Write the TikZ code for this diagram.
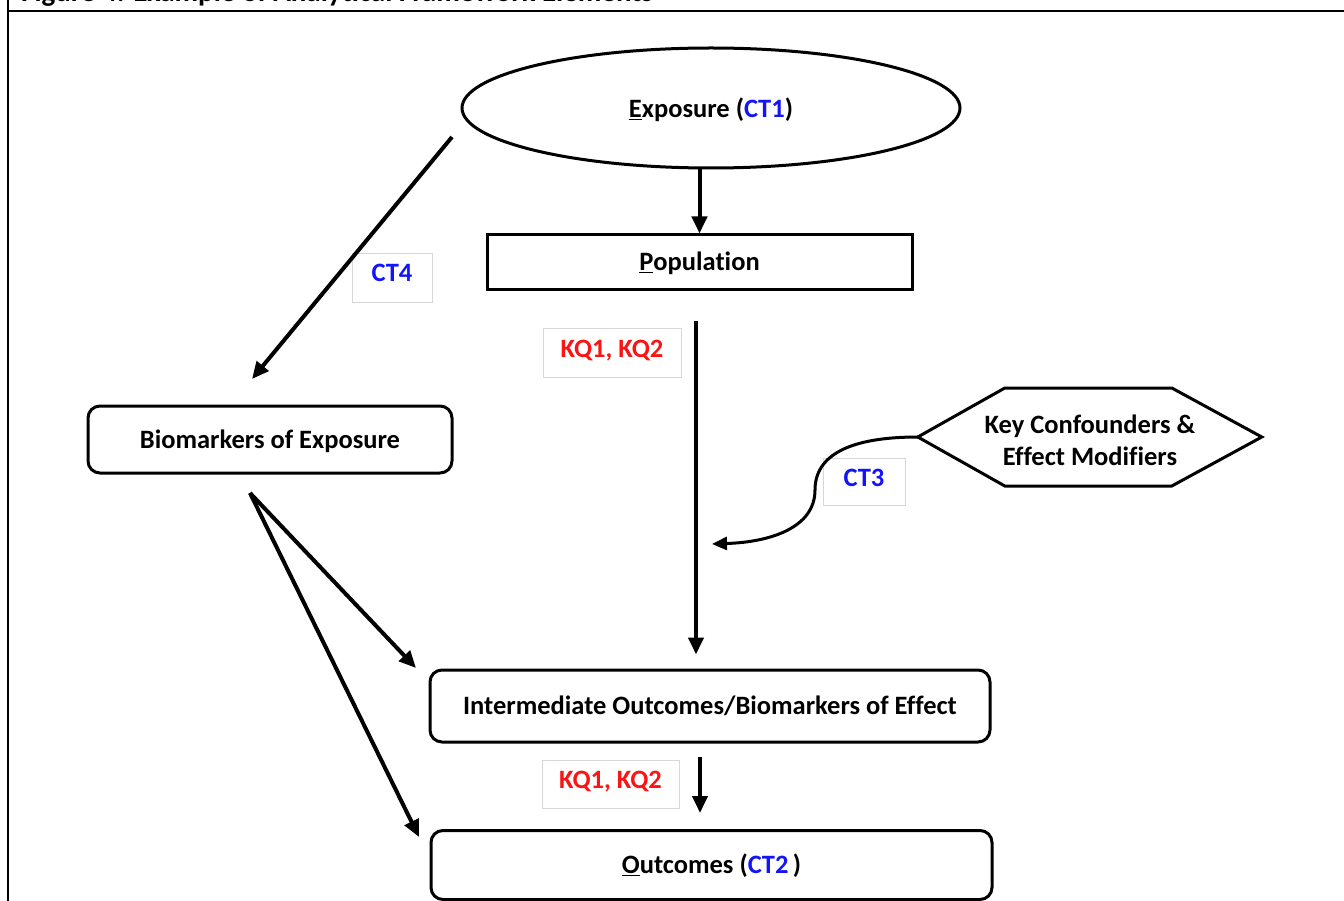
\documentclass[tikz,border=0pt]{standalone}
\usepackage{fontspec}
\setmainfont{Carlito}[Ligatures=NoCommon]
\usetikzlibrary{arrows.meta,calc,shapes.geometric}
\definecolor{ctblue}{RGB}{20,20,250}
\definecolor{kqred}{RGB}{250,20,20}
\definecolor{lblline}{RGB}{215,215,215}
\begin{document}
\begin{tikzpicture}[x=1pt,y=-1pt,
  every node/.style={font=\fontsize{26.5}{32}\selectfont\bfseries, inner sep=0pt},
  shapeline/.style={draw, line width=3pt},
  boxtext/.style={text height=23pt, text depth=6pt},
  roundbox/.style={shapeline, boxtext, rounded corners=12pt},
  lbl/.style={draw=lblline, fill=white, line width=0.9pt, text height=17pt, text depth=8pt},
  arr/.style={line width=4pt, -{Triangle[length=17pt,width=15pt]}},
  curvearr/.style={line width=3pt, -{Triangle[length=15pt,width=13pt]}},
  frameline/.style={line width=2.2pt}]
\useasboundingbox (0,0) rectangle (1344,901);

% frame and title
\draw[frameline] (8,0) -- (8,901);
\draw[frameline] (8,11) -- (1344,11);
\node[anchor=base west, font=\fontsize{29}{34}\selectfont\bfseries] (title) at (21,1.5) {Figure 4. Example of Analytical Framework Elements};

% main nodes
\node[shapeline, ellipse, minimum width=498pt, minimum height=120pt] (expo) at (711,108) {};
\node (expotxt) at (711,110) {\underline{E}xposure (\textcolor{ctblue}{CT1})};
\node[shapeline, boxtext, minimum width=425pt, minimum height=55pt] (pop) at (699.5,262.5) {\underline{P}opulation};
\node[roundbox, minimum width=364pt, minimum height=67pt] (bio) at (270,439.5) {Biomarkers of Exposure};
\node[roundbox, minimum width=560pt, minimum height=72pt] (inter) at (710,706) {Intermediate Outcomes/Biomarkers of Effect};
\node[roundbox, minimum width=561pt, minimum height=69pt] (outc) at (711.5,865) {\underline{O}utcomes (\textcolor{ctblue}{CT2}\,)};

% confounders hexagon
\node[minimum width=344pt, minimum height=98pt, align=center] (conf) at (1090,440) {Key Confounders \&\\Effect Modifiers};
\draw[line width=3pt, line join=miter]
  (conf.west) ++(0,-3) coordinate (hexw) -- ++(87,-49) -- ++(167,0) -- ++(90,49)
  -- ++(-90,49) -- ++(-167,0) -- cycle;

% labels
\node[lbl, minimum width=80pt, minimum height=49pt] (ct4) at (392,277.5) {\textcolor{ctblue}{CT4}};
\node[lbl, minimum width=138pt, minimum height=49pt] (kqa) at (612,352.5) {\textcolor{kqred}{KQ1, KQ2}};
\node[lbl, minimum width=82pt, minimum height=47pt] (ct3) at (864,481.5) {\textcolor{ctblue}{CT3}};
\node[lbl, minimum width=137pt, minimum height=48pt] (kqb) at (610.5,784) {\textcolor{kqred}{KQ1, KQ2}};

% free ends of connectors
\coordinate (ct4start) at (452,137);
\coordinate (ct4end) at (252,379);
\coordinate (biofork) at (250,493);
\coordinate (interin) at (416,668);
\coordinate (outcin) at (419,837);
\coordinate (ct3end) at (712,544);

% connectors
\draw[arr] (expo.south -| pop.north) -- (pop.north);
\draw[arr, shorten <=30pt, shorten >=14pt] (pop.south -| 696,0) -- (inter.north -| 696,0);
\draw[arr, shorten <=13pt, shorten >=16pt] (inter.south -| 700,0) -- (outc.north -| 700,0);
\draw[arr] (ct4start) -- (ct4end);
\draw[arr] (biofork) -- (interin);
\draw[arr] (biofork) -- (outcin);
\draw[curvearr] (hexw) .. controls (850,437) and (815,455) .. (815,490)
  .. controls (815,527) and (772,542) .. (ct3end);
\end{tikzpicture}
\end{document}
